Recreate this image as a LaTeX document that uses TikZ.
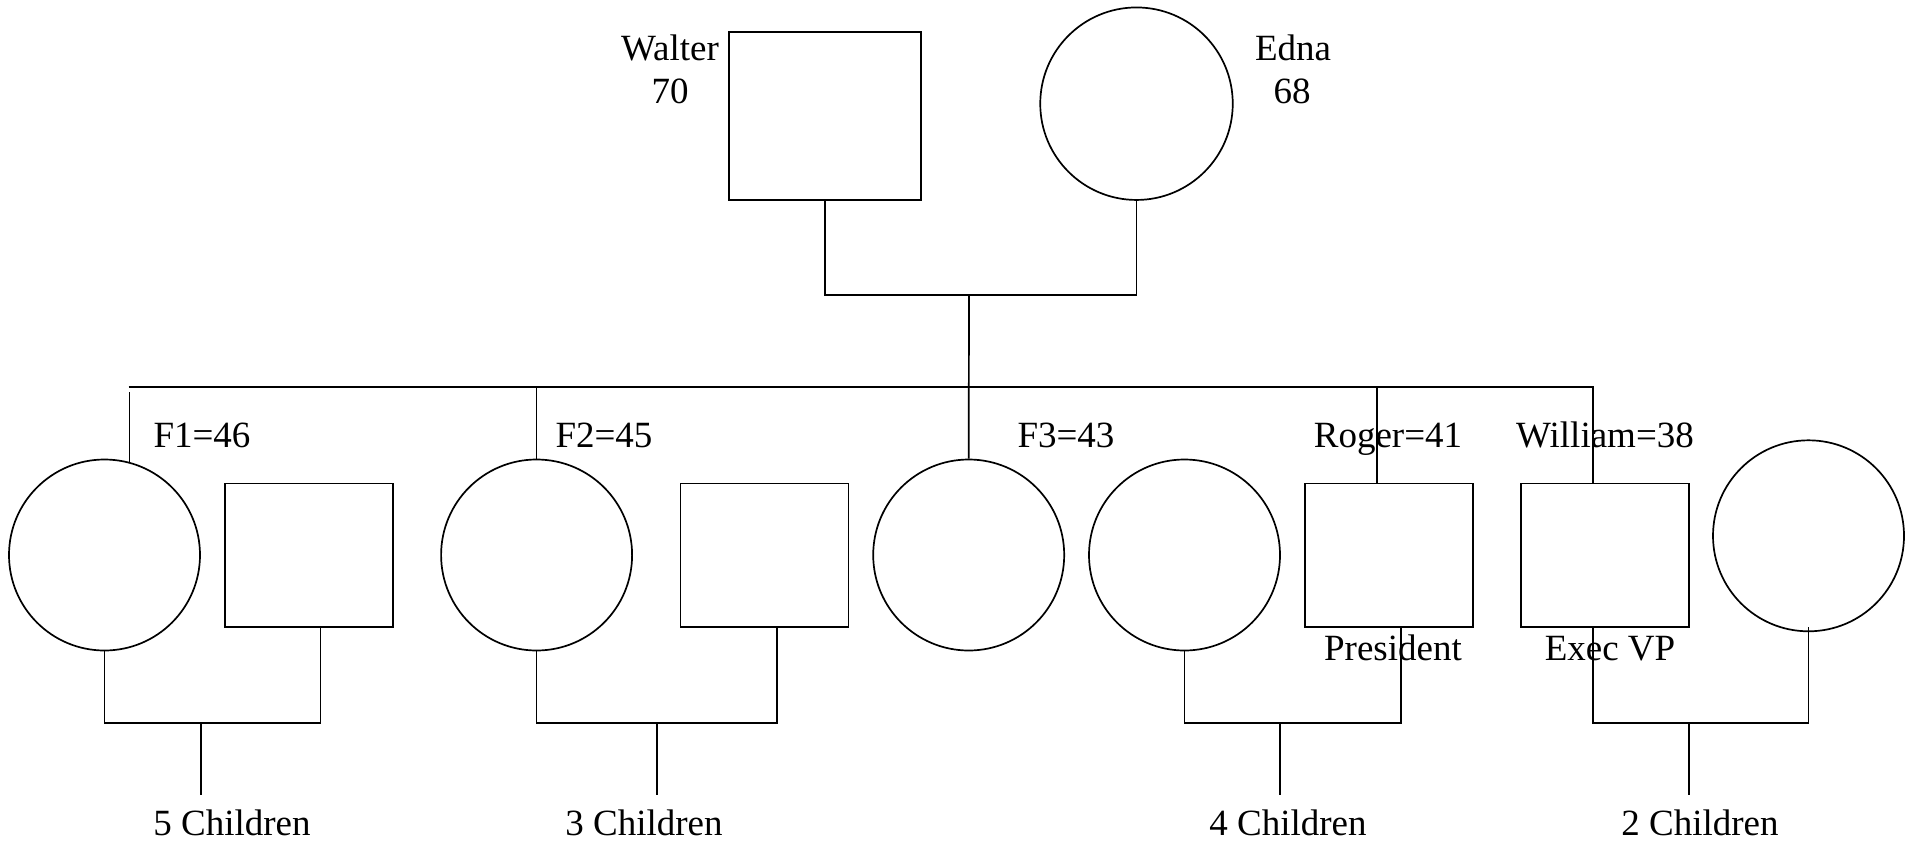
\documentclass[tikz,border=0pt]{standalone}
\usepackage{fontspec}
\setmainfont{Liberation Serif}
\begin{document}
\begin{tikzpicture}[x=1pt,y=-1pt, line width=1.7pt,
  fem/.style={draw, circle, minimum size=191pt, inner sep=0pt},
  mal/.style={draw, rectangle, minimum width=168pt, minimum height=143.7pt, inner sep=0pt},
  lbl/.style={anchor=base, inner sep=0pt, font=\fontsize{37pt}{43pt}\selectfont}]
\useasboundingbox (0,0) rectangle (1915,841);
% parents
\node[draw, rectangle, minimum width=192pt, minimum height=168.3pt, inner sep=0pt] (walter) at (825,115.8) {};
\node[fem, minimum size=192.5pt] (edna) at (1136.5,103.7) {};
\node[lbl] (wname) at (670,60) {Walter};
\node[lbl] (wage) at (670,103) {70};
\node[lbl] (ename) at (1293,60) {Edna};
\node[lbl] (eage) at (1292,103) {68};
% children row
\node[fem] (f1) at (104.5,555) {};
\node[mal] (f1h) at (308.8,555.2) {};
\node[fem] (f2) at (536.6,555) {};
\node[mal] (f2h) at (764.5,555.2) {};
\node[fem] (f3) at (968.7,555) {};
\node[fem] (rw) at (1184.5,555) {};
\node[mal] (roger) at (1389,555.2) {};
\node[mal] (william) at (1605,555.2) {};
\node[fem] (ww) at (1808.5,535.8) {};
% labels
\node[lbl] (lf1) at (202,447) {F1=46};
\node[lbl] (lf2) at (604,447) {F2=45};
\node[lbl] (lf3) at (1066,447) {F3=43};
\node[lbl] (lr) at (1388,447) {Roger=41};
\node[lbl] (lw) at (1605,447) {William=38};
\node[lbl] (lpres) at (1393,660) {President};
\node[lbl] (lvp) at (1610,660) {Exec VP};
\node[lbl] (k1) at (232,835) {5 Children};
\node[lbl] (k2) at (644,835) {3 Children};
\node[lbl] (k3) at (1288,835) {4 Children};
\node[lbl] (k4) at (1700,835) {2 Children};
% coordinates
\coordinate (pm) at (969,295.3);
\coordinate (sibL) at (128.6,386.7);
\coordinate (gap) at (0,391.5);
\coordinate (c1) at (200.9,722.7);
\coordinate (c2) at (657,722.7);
\coordinate (c3) at (1280.2,722.7);
\coordinate (c4) at (1688.7,722.7);
% parents couple line
\draw (walter.south) |- (pm) -| (edna.south);
\draw (pm) -- (f3.north);
% sibling line
\draw (sibL) -| ([xshift=-12.2pt]william.north);
\draw (f1.75.5) -- (f1.75.5 |- gap);
\draw (f2.north) -- (f2.north |- sibL);
\draw ([xshift=-12.1pt]roger.north) -- ([xshift=-12.1pt]roger.north |- sibL);
% couples
\draw (f1.south) |- (c1) -| ([xshift=11.7pt]f1h.south);
\draw (f2.south) |- (c2) -| ([xshift=12.3pt]f2h.south);
\draw (rw.south) |- (c3) -| ([xshift=11.8pt]roger.south);
\draw ([xshift=-12.2pt]william.south) |- (c4) -| ([yshift=5pt]ww.south);
% children lines
\draw (c1) -- ++(0,72.3);
\draw (c2) -- ++(0,72.3);
\draw (c3) -- ++(0,72.3);
\draw (c4) -- ++(0,72.3);
\end{tikzpicture}
\end{document}
